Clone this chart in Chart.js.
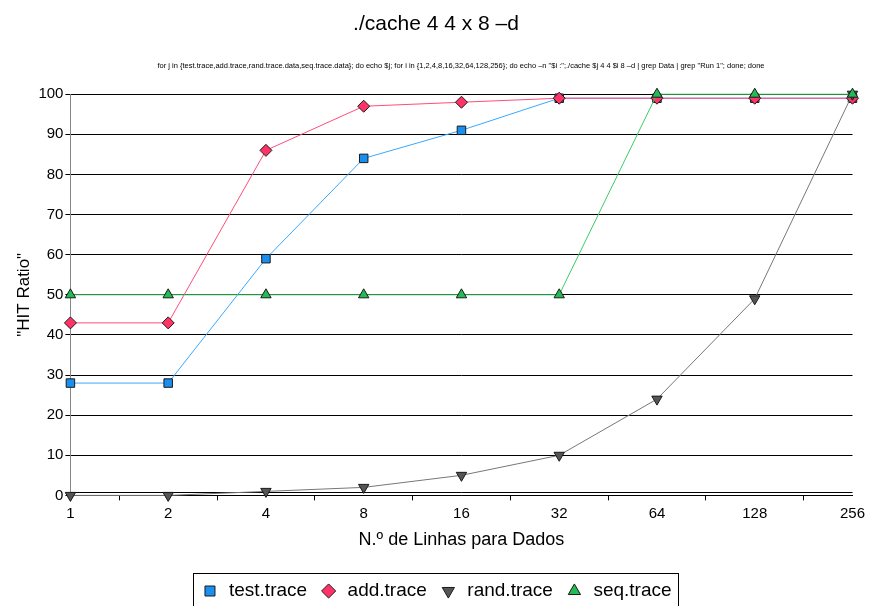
<!DOCTYPE html>
<html>
<head>
<meta charset="utf-8">
<script src="https://cdn.jsdelivr.net/npm/chart.js@4"></script>
<style>
  html, body { margin: 0; padding: 0; background: #fff; }
  #wrap { width: 869px; height: 606px; }
</style>
</head>
<body>
<div id="wrap"><canvas id="hitChart"></canvas></div>
<script>
// cache hit ratio per trace, x = lines for data
const linhas = ['1', '2', '4', '8', '16', '32', '64', '128', '256'];
const testTrace = [28, 28, 59, 84, 91, 99, 99, 99, 99];
const addTrace = [43, 43, 86, 97, 98, 99, 99, 99, 99];
const randTrace = [0, 0, 1, 2, 5, 10, 24, 49, 100];
const seqTrace = [50, 50, 50, 50, 50, 50, 100, 100, 100];
const yTicks = [0, 0.8, 10, 20, 30, 40, 50, 60, 70, 80, 90, 100];

const SUBTITLE = 'for j in {test.trace,add.trace,rand.trace.data,seq.trace.data}; do echo $j; for i in {1,2,4,8,16,32,64,128,256}; do echo \u2013n "$i :";./cache $j 4 4 $i 8 \u2013d | grep Data | grep "Run 1"; done; done';
const FONT = 'Arial, "Liberation Sans", sans-serif';
const LEGEND_MID = 591;

// the command line sits a bit right of centre in the original,
// and the legend hangs low, partly cut by the bottom edge
const nudge = {
  id: 'nudge',
  afterLayout(chart) {
    chart.boxes.forEach(b => {
      if (b.options && b.options.text === SUBTITLE) b.left += 50;
    });
  },
  afterUpdate(chart) {
    const l = chart.legend;
    if (!l || !l.legendHitBoxes || !l.legendHitBoxes.length) return;
    const h = l.legendHitBoxes[0];
    const d = LEGEND_MID - (h.top + h.height / 2);
    l.top += d;
    l.bottom += d;
    l.legendHitBoxes.forEach(b => { b.top += d; });
  }
};

// frame round the legend items, like the original
const legendBox = {
  id: 'legendBox',
  afterDraw(chart) {
    const l = chart.legend;
    if (!l || !l.legendHitBoxes || !l.legendHitBoxes.length) return;
    const boxes = l.legendHitBoxes;
    const left = Math.min(...boxes.map(b => b.left)) - 7;
    const right = Math.max(...boxes.map(b => b.left + b.width)) + 7;
    const top = Math.round(LEGEND_MID - 18);
    const c = chart.ctx;
    c.save();
    c.strokeStyle = '#000';
    c.lineWidth = 1;
    c.strokeRect(Math.round(left) + 0.5, top + 0.5, Math.round(right - left), 60);
    c.restore();
  }
};

function serie(label, data, line, fill, style, rot, order) {
  return {
    label: label,
    data: data,
    borderColor: line,
    backgroundColor: fill,
    borderWidth: 1,
    pointStyle: style,
    pointRotation: rot,
    pointRadius: 6,
    pointHoverRadius: 6,
    pointBackgroundColor: fill,
    pointBorderColor: '#1a1a1a',
    pointBorderWidth: 1,
    tension: 0,
    clip: false,
    order: order
  };
}

new Chart(document.getElementById('hitChart'), {
  type: 'line',
  data: {
    labels: linhas,
    datasets: [
      serie('test.trace', testTrace, '#3aa8ff', '#1a8fef', 'rect', 0, 4),
      serie('add.trace', addTrace, '#ff4d78', '#ff3366', 'rectRot', 0, 3),
      serie('rand.trace', randTrace, '#777777', '#555555', 'triangle', 180, 2),
      serie('seq.trace', seqTrace, '#3ccc66', '#22bb55', 'triangle', 0, 1)
    ]
  },
  options: {
    responsive: true,
    maintainAspectRatio: false,
    animation: false,
    layout: { padding: { left: 14, right: 11, top: 6, bottom: 0 } },
    plugins: {
      title: {
        display: true,
        text: './cache 4 4 x 8 \u2013d',
        color: '#000',
        font: { family: FONT, size: 21, weight: 'normal' },
        padding: { top: 6, bottom: 24 }
      },
      subtitle: {
        display: true,
        text: SUBTITLE,
        color: '#000',
        font: { family: FONT, size: 7.5 },
        padding: { top: 0, bottom: 24 }
      },
      legend: {
        position: 'bottom',
        labels: {
          usePointStyle: true,
          boxHeight: 10,
          color: '#000',
          font: { family: FONT, size: 19 },
          padding: 12,
          sort: (a, b) => a.datasetIndex - b.datasetIndex
        }
      },
      tooltip: { enabled: false }
    },
    scales: {
      x: {
        offset: false,
        grid: {
          display: true,
          offset: true,
          drawOnChartArea: false,
          tickLength: 5,
          color: '#000'
        },
        border: { color: '#000' },
        ticks: {
          color: '#000',
          font: { family: FONT, size: 15 },
          padding: 4
        },
        title: {
          display: true,
          text: 'N.\u00ba de Linhas para Dados',
          color: '#000',
          font: { family: FONT, size: 18 },
          padding: { top: 3, bottom: 14 }
        }
      },
      y: {
        min: 0,
        max: 100,
        afterBuildTicks(axis) {
          axis.ticks = yTicks.map(v => ({ value: v }));
        },
        grid: {
          color: '#000',
          tickLength: 5,
          tickColor: ctx => (ctx.tick && ctx.tick.value % 10 ? 'rgba(0,0,0,0)' : '#000')
        },
        border: { color: '#888' },
        ticks: {
          color: '#000',
          font: { family: FONT, size: 15 },
          padding: 2,
          callback: v => (v % 10 ? '' : v)
        },
        title: {
          display: true,
          text: '"HIT Ratio"',
          color: '#000',
          font: { family: FONT, size: 17 },
          padding: { top: 0, bottom: 2 }
        }
      }
    }
  },
  plugins: [nudge, legendBox]
});
</script>
</body>
</html>
